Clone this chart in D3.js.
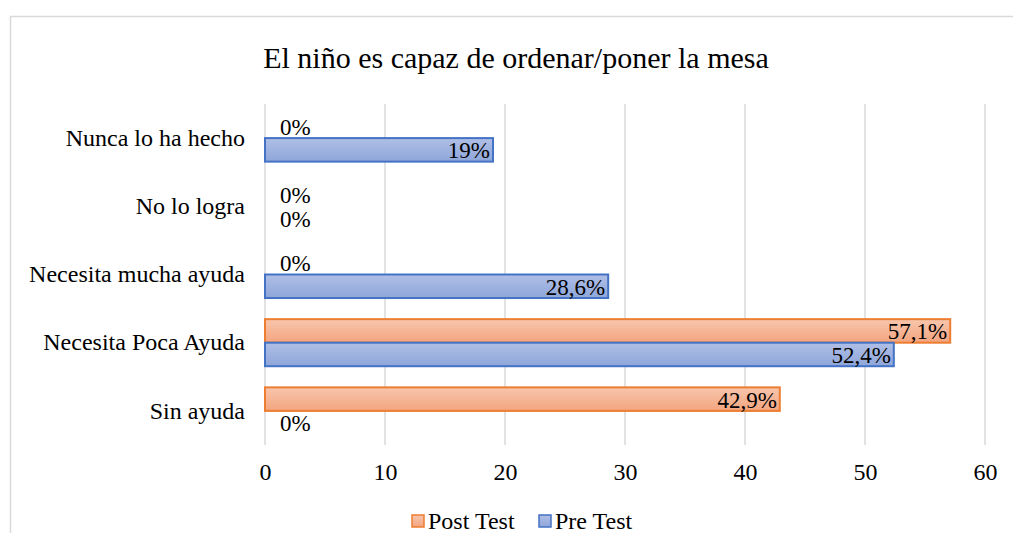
<!DOCTYPE html>
<html><head><meta charset="utf-8">
<script src="https://cdn.jsdelivr.net/npm/d3@7"></script>
<style>html,body{margin:0;padding:0;background:#fff;overflow:hidden}svg{display:block}</style>
</head><body><div id="chart"></div>
<script>
const title = "El niño es capaz de ordenar/poner la mesa";
const categories = ["Nunca lo ha hecho", "No lo logra", "Necesita mucha ayuda", "Necesita Poca Ayuda", "Sin ayuda"];
const seriesNames = ["Post Test", "Pre Test"];
const postTest = [0, 0, 0, 57.1, 42.9];
const preTest = [19, 0, 28.6, 52.4, 0];
const xTicks = [0, 10, 20, 30, 40, 50, 60];

const FONT = "Liberation Serif";
const W = 1013, H = 533;
const svg = d3.select("#chart").append("svg").attr("width", W).attr("height", H);

const defs = svg.append("defs");
const grads = [
  {id: "gPost", c0: "#f8c6ad", c1: "#f3a47f"},
  {id: "gPre", c0: "#b0bfe6", c1: "#8ea6da"}
];
grads.forEach(g => {
  const lg = defs.append("linearGradient").attr("id", g.id).attr("x1", 0).attr("y1", 0).attr("x2", 0).attr("y2", 1);
  lg.append("stop").attr("offset", "0%").attr("stop-color", g.c0);
  lg.append("stop").attr("offset", "100%").attr("stop-color", g.c1);
});
const fills = ["url(#gPost)", "url(#gPre)"];
const strokes = ["#ed7d31", "#4472c4"];

// chart frame
svg.append("rect").attr("x", 10.5).attr("y", 16.5).attr("width", 1200).attr("height", 800)
  .attr("fill", "none").attr("stroke", "#d9d9d9").attr("stroke-width", 1.5);

svg.append("text").attr("x", 516).attr("y", 57).attr("text-anchor", "middle")
  .attr("dominant-baseline", "central").attr("font-family", FONT).attr("font-size", 30).text(title);

const x = d3.scaleLinear().domain([0, 60]).range([265, 985]);
const y = d3.scaleBand().domain(categories).range([104, 445]).paddingInner(0.31).paddingOuter(0.155);
const ys = d3.scaleBand().domain(seriesNames).range([0, y.bandwidth()]);

// gridlines
svg.append("g").selectAll("line").data(xTicks).join("line")
  .attr("x1", d => x(d)).attr("x2", d => x(d)).attr("y1", 104).attr("y2", 445)
  .attr("stroke", "#d9d9d9").attr("stroke-width", 1.5);

// x axis labels
const xAxis = d3.axisBottom(x).tickValues(xTicks).tickSize(0).tickPadding(0).tickFormat(d3.format("d"));
const gx = svg.append("g").attr("transform", "translate(0,463)").call(xAxis);
gx.attr("font-family", FONT).attr("font-size", 24);
gx.select(".domain").remove();
gx.selectAll("text").attr("fill", "#000").attr("dy", "0.71em").attr("font-family", FONT).attr("font-size", 24);

// y axis labels
const yAxis = d3.axisLeft(y).tickSize(0).tickPadding(0);
const gy = svg.append("g").attr("transform", "translate(245,0)").call(yAxis);
gy.attr("font-family", FONT).attr("font-size", 24);
gy.select(".domain").remove();
gy.selectAll("text").attr("fill", "#000").attr("font-family", FONT).attr("font-size", 24);

const fmt = v => (Number.isInteger(v) ? String(v) : String(v).replace(".", ",")) + "%";
const seriesData = [postTest, preTest];

seriesData.forEach((vals, si) => {
  const name = seriesNames[si];
  const g = svg.append("g");
  g.selectAll("rect").data(vals.map((v, i) => ({v, c: categories[i]})).filter(d => d.v > 0)).join("rect")
    .attr("x", x(0)).attr("y", d => y(d.c) + ys(name))
    .attr("width", d => x(d.v) - x(0)).attr("height", ys.bandwidth())
    .attr("fill", fills[si]).attr("stroke", strokes[si]).attr("stroke-width", 2);
  g.selectAll("text").data(vals.map((v, i) => ({v, c: categories[i]}))).join("text")
    .attr("x", d => d.v > 0 ? x(d.v) - 3 : x(0) + 15)
    .attr("y", d => y(d.c) + ys(name) + ys.bandwidth() / 2 + 1)
    .attr("text-anchor", d => d.v > 0 ? "end" : "start")
    .attr("dominant-baseline", "central")
    .attr("font-family", FONT).attr("font-size", 23).text(d => fmt(d.v));
});

// legend
const legend = svg.append("g").attr("transform", "translate(0,521)");
const legItems = [{name: "Post Test", x: 412}, {name: "Pre Test", x: 539}];
legItems.forEach((it, i) => {
  legend.append("rect").attr("x", it.x).attr("y", -6).attr("width", 12).attr("height", 12)
    .attr("fill", fills[i]).attr("stroke", strokes[i]).attr("stroke-width", 1.5);
  legend.append("text").attr("x", it.x + 16).attr("y", 0).attr("dominant-baseline", "central")
    .attr("font-family", FONT).attr("font-size", 24).text(it.name);
});
</script></body></html>
